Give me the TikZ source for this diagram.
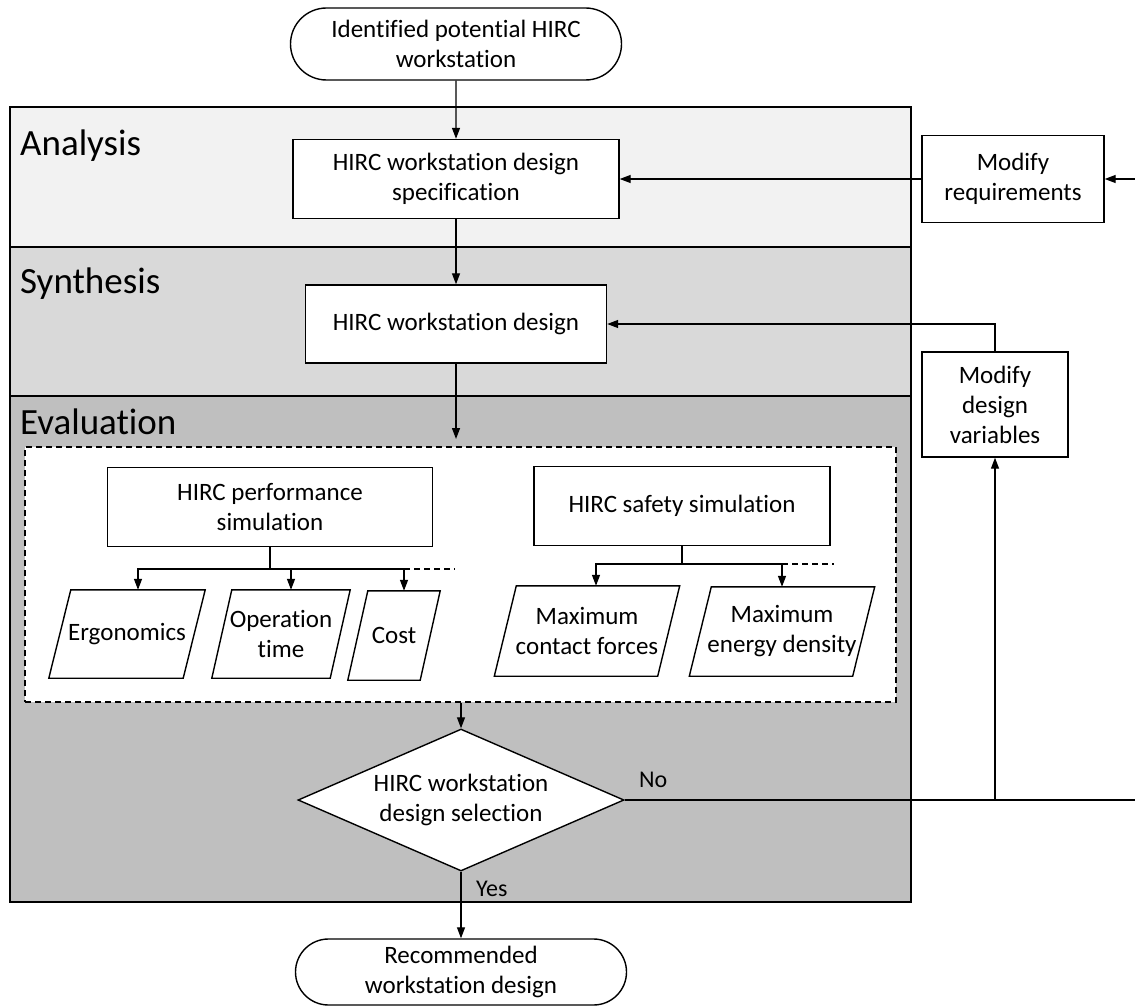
\documentclass[tikz,border=0pt]{standalone}
\usepackage{fontspec}
\setmainfont{Carlito}[Ligatures=NoCommon]
\usetikzlibrary{arrows.meta,shapes.misc,shapes.geometric,calc}
\definecolor{anfill}{HTML}{F2F2F2}
\definecolor{synfill}{HTML}{D9D9D9}
\definecolor{evfill}{HTML}{BFBFBF}
\begin{document}
\begin{tikzpicture}[x=1pt,y=-1pt,
  box/.style={draw, fill=white, line width=1.4pt, align=center, inner sep=0pt,
              font=\fontsize{25}{30}\selectfont},
  term/.style={box, rounded rectangle, minimum width=331pt},
  arr/.style={-{Triangle[length=11pt,width=8pt]}, line width=1.3pt},
  ln/.style={line width=1.3pt},
  dashln/.style={line width=1.4pt, dash pattern=on 6pt off 4pt},
  band/.style={draw, line width=1.6pt},
  bandlabel/.style={anchor=base west, inner sep=0pt, font=\fontsize{37}{44}\selectfont},
  para/.style={align=center, inner sep=0pt, font=\fontsize{25}{30}\selectfont},
  lbl/.style={anchor=base west, inner sep=0pt, font=\fontsize{24}{28}\selectfont}
]
\useasboundingbox (0,0) rectangle (1135,1006);
\fill[white] (0,0) rectangle (1135,1006);

% phase bands
\draw[band, fill=anfill] (10,107) rectangle (911,247);
\draw[band, fill=synfill] (10,247) rectangle (911,396);
\draw[band, fill=evfill] (10,396) rectangle (911,902);
\node[bandlabel] (lan) at (20,155) {Analysis};
\node[bandlabel] (lsy) at (20,293) {Synthesis};
\node[bandlabel] (lev) at (20,434) {Evaluation};

% evaluation frame
\node[draw, fill=white, dashln, minimum width=871pt, minimum height=255pt, inner sep=0pt]
  (evalbox) at (460.5,574.5) {};

% main nodes
\node[term, minimum height=72pt] (start) at (456,44) {Identified potential HIRC\\workstation};
\node[box, minimum width=326pt, minimum height=79pt] (spec) at (456,179) {HIRC workstation design\\specification};
\node[box, minimum width=182pt, minimum height=87pt] (modreq) at (1013,179) {Modify\\requirements};
\node[box, minimum width=301pt, minimum height=78pt] (design) at (456,324) {HIRC workstation design};
\node[box, minimum width=146pt, minimum height=105pt] (moddv) at (995,404.5) {Modify\\design\\variables};
\node[box, minimum width=325pt, minimum height=79pt] (perf) at (270,507) {HIRC performance\\simulation};
\node[box, minimum width=296pt, minimum height=79pt] (safe) at (682,506) {HIRC safety simulation};
\node[box, diamond, aspect=2.3, minimum width=326pt, minimum height=142pt] (dsel) at (461,800) {HIRC workstation\\design selection};
\node[term, minimum height=66pt] (final) at (461,972) {Recommended\\workstation design};

% parallelogram outputs
\node[para, minimum width=134pt, minimum height=88pt] (erg) at (127,634) {Ergonomics};
\node[para, minimum width=118pt, minimum height=88pt] (op) at (281,634) {Operation\\time};
\node[para, minimum width=72pt, minimum height=89pt] (cost) at (394,635.5) {Cost};
\node[para, minimum width=163pt, minimum height=90pt] (mcf) at (587,631) {Maximum\\contact forces};
\node[para, minimum width=163pt, minimum height=89pt] (med) at (782,631.5) {Maximum\\energy density};
\foreach \n/\s in {erg/11, op/10, cost/10, mcf/11, med/11}{
  \draw[line width=1.4pt] ([xshift=\s pt]\n.north west) -- ([xshift=\s pt]\n.north east)
     -- ([xshift=-\s pt]\n.south east) -- ([xshift=-\s pt]\n.south west) -- cycle;
}
\coordinate (ergtop) at ([xshift=11pt]erg.north);
\coordinate (optop) at ([xshift=10pt]op.north);
\coordinate (costtop) at ([xshift=10pt]cost.north);
\coordinate (mcftop) at ([xshift=9pt]mcf.north);
\coordinate (medtop) at (med.north);

% branch junctions
\coordinate (pj) at (270,569);
\coordinate (sj) at (682,564);
\draw[ln] (perf.south) -- (pj);
\draw[arr] (pj) -| (ergtop);
\draw[arr] (pj) -| (optop);
\draw[arr] (pj) -| (costtop);
\draw[dashln] (pj -| costtop) -- ++(51,0);
\draw[ln] (safe.south) -- (sj);
\draw[arr] (sj) -| (mcftop);
\draw[arr] (sj) -| (medtop);
\draw[dashln] (sj -| medtop) -- ++(52,0);

% main flow
\coordinate (evalin) at (456,439);
\coordinate (rin) at (1135,179);
\coordinate (rout) at (1135,800);
\draw[arr] (start) -- (spec);
\draw[arr] (spec) -- (design);
\draw[arr] (modreq) -- (spec);
\draw[arr] (rin) -- (modreq);
\draw[arr] (moddv.north) |- (design.east);
\draw[arr] (design) -- (evalin);
\draw[arr] (evalbox.south -| dsel.north) -- (dsel.north);
\draw[line width=1.6pt] (dsel.east) -- (rout);
\draw[arr] (dsel.east -| moddv.south) -- (moddv.south);
\draw[arr] (dsel.south) -- (final.north);

\node[lbl] (no) at (639,787) {No};
\node[lbl] (yes) at (476,896) {Yes};
\end{tikzpicture}
\end{document}
